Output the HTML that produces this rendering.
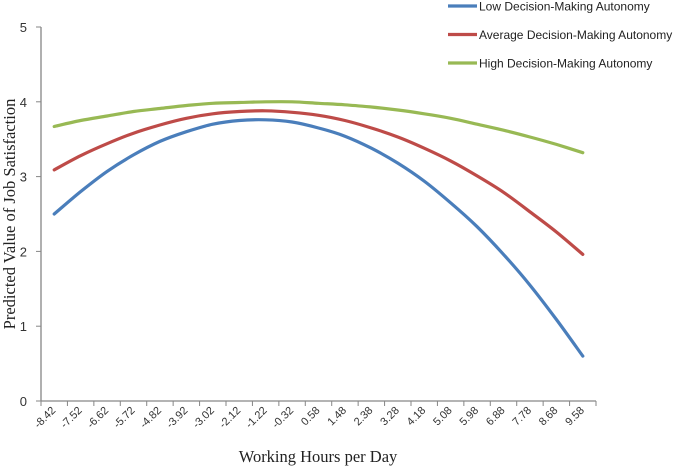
<!DOCTYPE html>
<html><head><meta charset="utf-8"><style>
html,body{margin:0;padding:0;background:#fff;}
svg text{font-family:"Liberation Sans",sans-serif;}
</style></head><body>
<svg id="chart" width="685" height="466" xmlns="http://www.w3.org/2000/svg">
<g id="axes"></g><g id="series"></g><g id="legend"></g>
</svg>
<script>
const categories = ["-8.42","-7.52","-6.62","-5.72","-4.82","-3.92","-3.02","-2.12","-1.22","-0.32","0.58","1.48","2.38","3.28","4.18","5.08","5.98","6.88","7.78","8.68","9.58"];
const lowValues = [2.50,2.80,3.07,3.29,3.47,3.60,3.70,3.75,3.76,3.73,3.65,3.54,3.38,3.18,2.94,2.65,2.33,1.96,1.55,1.09,0.60];
const avgValues = [3.09,3.28,3.44,3.58,3.69,3.78,3.84,3.87,3.88,3.86,3.82,3.75,3.65,3.53,3.38,3.21,3.01,2.79,2.53,2.26,1.96];
const highValues = [3.67,3.75,3.81,3.87,3.91,3.95,3.98,3.99,4.00,4.00,3.98,3.96,3.93,3.89,3.84,3.78,3.70,3.62,3.53,3.43,3.32];
const yTicks = [0,1,2,3,4,5];
const seriesNames = ["Low Decision-Making Autonomy","Average Decision-Making Autonomy","High Decision-Making Autonomy"];

const NS="http://www.w3.org/2000/svg";
const X0=41,X1=596,Y0=401,Y1=27;
const step=(X1-X0)/categories.length;
const xs=i=>X0+step*(i+0.5);
const ys=v=>Y0-(Y0-Y1)*v/5;
function mk(tag,attrs,parent){const e=document.createElementNS(NS,tag);for(const k in attrs)e.setAttribute(k,attrs[k]);parent.appendChild(e);return e;}
const axes=document.getElementById('axes');
let e=mk('line',{x1:X0,y1:Y1,x2:X0,y2:Y0,stroke:'#868686','stroke-width':1.3},axes);


e=mk('line',{x1:X0,y1:Y0,x2:X1,y2:Y0,stroke:'#868686','stroke-width':1.3},axes);


yTicks.forEach(t=>{
  mk('line',{x1:X0-5,y1:ys(t),x2:X0,y2:ys(t),stroke:'#868686'},axes);
  const tx=mk('text',{x:X0-14,y:ys(t)+5,'text-anchor':'end','font-size':13,fill:'#333'},axes);
  tx.textContent=t;
  
  
});
for(let i=0;i<=categories.length;i++){
  mk('line',{x1:X0+step*i,y1:Y0,x2:X0+step*i,y2:Y0+5,stroke:'#868686'},axes);
}
categories.forEach((c,i)=>{
  const x=xs(i)+2,y=411;
  const tx=mk('text',{x:x,y:y,'text-anchor':'end','font-size':11,fill:'#333',transform:`rotate(-45 ${x} ${y})`},axes);
  tx.textContent=c;
  
  
});
let t=mk('text',{x:318,y:462,'text-anchor':'middle','font-size':16.5,fill:'#222'},axes);
t.setAttribute('style','font-family:"Liberation Serif",serif');
t.textContent='Working Hours per Day';


t=mk('text',{x:0,y:0,'text-anchor':'middle','font-size':16.5,fill:'#222',transform:'translate(15 214) rotate(-90)'},axes);
t.setAttribute('style','font-family:"Liberation Serif",serif');
t.textContent='Predicted Value of Job Satisfaction';



const colors=['#4a7ebb','#be4b48','#98b954'];
const allSeries=[lowValues,avgValues,highValues];
const sg=document.getElementById('series');
function smooth(pts){
  let d='M'+pts[0][0].toFixed(1)+' '+pts[0][1].toFixed(1);
  for(let i=0;i<pts.length-1;i++){
    const p0=pts[Math.max(i-1,0)],p1=pts[i],p2=pts[i+1],p3=pts[Math.min(i+2,pts.length-1)];
    const c1=[p1[0]+(p2[0]-p0[0])/6,p1[1]+(p2[1]-p0[1])/6];
    const c2=[p2[0]-(p3[0]-p1[0])/6,p2[1]-(p3[1]-p1[1])/6];
    d+=` C${c1[0].toFixed(1)} ${c1[1].toFixed(1)} ${c2[0].toFixed(1)} ${c2[1].toFixed(1)} ${p2[0].toFixed(1)} ${p2[1].toFixed(1)}`;
  }
  return d;
}
allSeries.forEach((vals,k)=>{
  const d=smooth(vals.map((v,i)=>[xs(i),ys(v)]));
  const p=mk('path',{d:d,fill:'none',stroke:colors[k],'stroke-width':3.2,'stroke-linejoin':'round','stroke-linecap':'round'},sg);
  
  
});
const lg=document.getElementById('legend');
seriesNames.forEach((n,k)=>{
  const y=6+k*28.5;
  const g=mk('g',{},lg);
  
  
  mk('line',{x1:448,y1:y,x2:477,y2:y,stroke:colors[k],'stroke-width':3.2},g);
  const tx=mk('text',{x:479,y:y+4.5,'font-size':12,fill:'#222'},g);
  tx.textContent=n;
});
</script>
</body></html>
